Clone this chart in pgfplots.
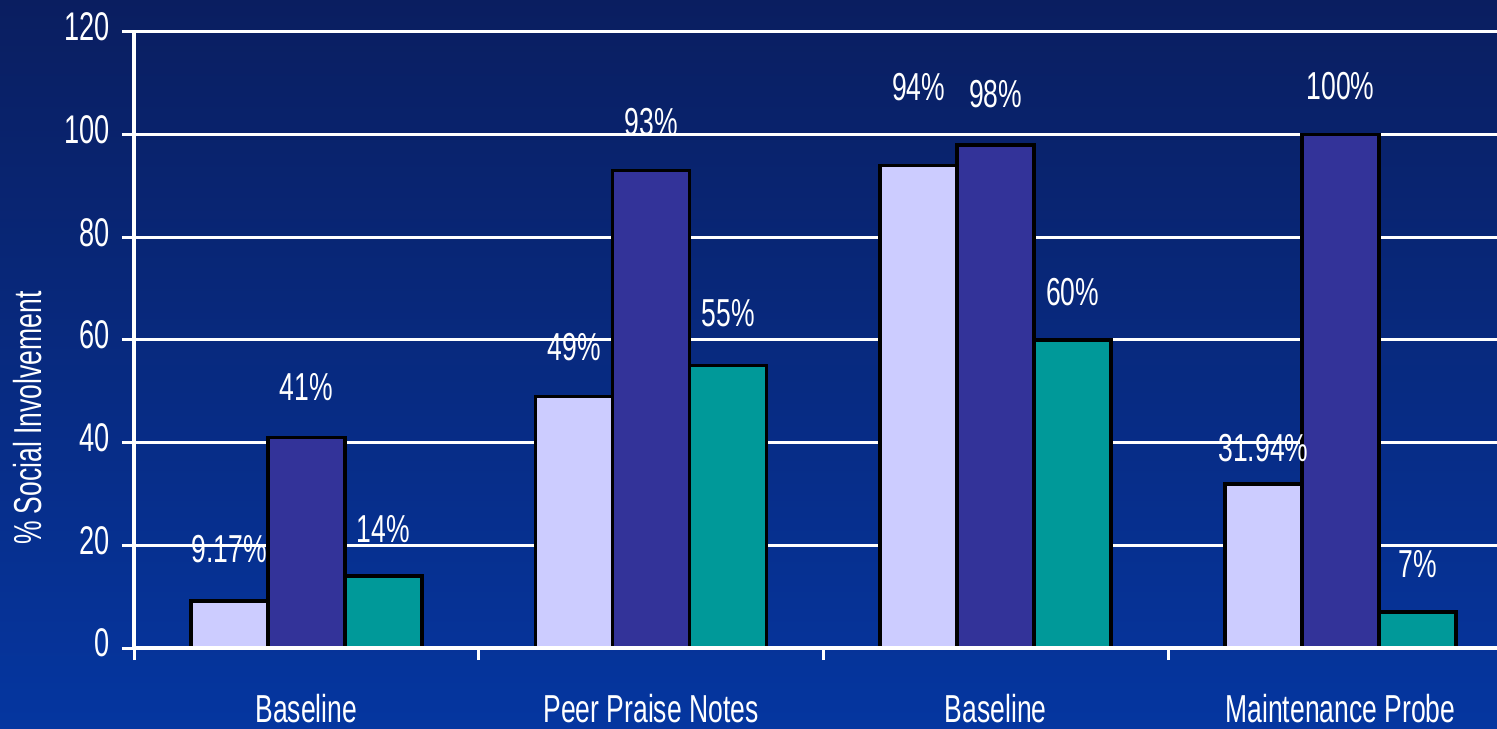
\documentclass[border=0pt]{standalone}
\usepackage{fontspec}
\setmainfont{Liberation Sans}[FakeStretch=0.68]
\usepackage{pgfplots}
\pgfplotsset{compat=1.18}
\definecolor{lav}{RGB}{204,204,255}
\definecolor{pur}{RGB}{51,51,153}
\definecolor{tealc}{RGB}{0,153,153}
\definecolor{bgtop}{RGB}{10,30,96}
\definecolor{bgbot}{RGB}{5,54,160}
\pgfplotsset{
  layers/mylayers/.define layer set={bgpic,axis background,axis grid,main,axis ticks,axis lines,axis tick labels,axis descriptions,axis foreground}{/pgfplots/layers/standard},
}
\newcommand{\lblfont}{\fontsize{19.5}{23}\selectfont}
\begin{document}
\begin{tikzpicture}
\begin{axis}[
  set layers=mylayers,
  at={(67pt,40pt)}, anchor=south west,
  scale only axis, width=689.4pt, height=308pt,
  xmin=-0.5, xmax=3.5, ymin=0, ymax=120,
  clip=false,
  ybar,
  axis lines*=left,
  axis line style={-, white, line width=2pt},
  ytick={0,20,...,120},
  ymajorgrids,
  grid style={white, line width=1.5pt},
  tick align=outside,
  major tick length=6pt,
  tick style={white, line width=1.5pt},
  xtick={-0.5,0.5,1.5,2.5,3.5},
  x tick label as interval,
  xticklabels={Baseline,Peer Praise Notes,Baseline,Maintenance Probe},
  /pgf/number format/assume math mode=true,
  yticklabel style={white, font=\fontsize{20}{24}\selectfont, xshift=-2.5pt, yshift=2.5pt},
  xticklabel style={white, font=\lblfont, yshift=-13.5pt},
  ylabel={\% Social Involvement},
  ylabel style={white, font=\lblfont, at={(axis description cs:-0.0769,0.373)}, anchor=center},
  every node near coord/.append style={anchor=center, white, font=\lblfont},
  point meta=explicit symbolic,
  nodes near coords={\pgfplotspointmeta\%},
  visualization depends on={\thisrow{dy}\as\dy},
]
\begin{pgfonlayer}{bgpic}
\shade[top color=bgtop, bottom color=bgbot] (axis description cs:-0.1,-0.1299) rectangle (axis description cs:1.1,1.052);
\end{pgfonlayer}
\addplot[bar width=0.2234, bar shift=-0.2234, fill=lav, draw=black, line width=1.8pt,
  every node near coord/.append style={yshift=\dy pt}]
 table[meta=lab] {
 x y dy lab
 0 9.17 26 9.17
 1 49 24.5 49
 2 94 39 94
 3 31.94 18 31.94
 };
\addplot[bar width=0.2234, bar shift=0, fill=pur, draw=black, line width=1.8pt,
  every node near coord/.append style={yshift=\dy pt}]
 table[meta=lab] {
 x y dy lab
 0 41 25 41
 1 93 24.5 93
 2 98 25.5 98
 3 100 24.5 100
 };
\addplot[bar width=0.2234, bar shift=0.2234, fill=tealc, draw=black, line width=1.8pt,
  every node near coord/.append style={yshift=\dy pt}]
 table[meta=lab] {
 x y dy lab
 0 14 23.5 14
 1 55 26.5 55
 2 60 24 60
 3 7 24 7
 };
\end{axis}
\pgfresetboundingbox
\path[use as bounding box] (0,0) rectangle (748.5pt,364pt);
\end{tikzpicture}
\end{document}
